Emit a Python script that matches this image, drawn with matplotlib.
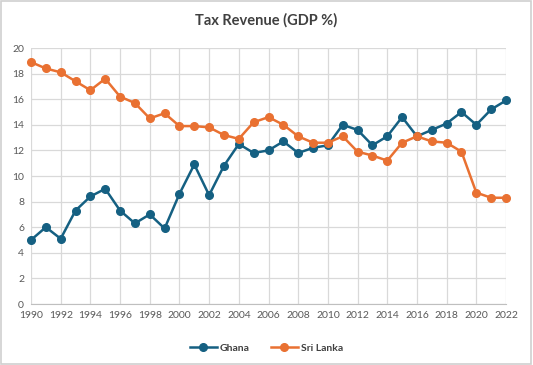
import matplotlib
matplotlib.use("Agg")
import matplotlib.pyplot as plt
from matplotlib.patches import Rectangle

years = list(range(1990, 2023))
ghana = [5.0, 6.0, 5.1, 7.3, 8.4, 9.0, 7.3, 6.3, 7.0, 5.9,
         8.6, 10.9, 8.5, 10.8, 12.5, 11.8, 12.0, 12.7, 11.8, 12.2,
         12.4, 14.0, 13.6, 12.4, 13.1, 14.6, 13.1, 13.6, 14.1, 15.0,
         14.0, 15.2, 15.9]
sri_lanka = [18.9, 18.4, 18.1, 17.4, 16.7, 17.6, 16.2, 15.7, 14.5, 14.9,
             13.9, 13.9, 13.8, 13.2, 12.9, 14.2, 14.6, 14.0, 13.1, 12.6,
             12.6, 13.1, 11.9, 11.6, 11.2, 12.6, 13.1, 12.7, 12.6, 11.9,
             8.7, 8.3, 8.3]
xticks = list(range(1990, 2023, 2))
yticks = list(range(0, 21, 2))

plt.rcParams['font.family'] = ['Lato', 'DejaVu Sans']

fig = plt.figure(figsize=(5.33, 3.65), dpi=100)
fig.patches.append(Rectangle((0.002, 0.003), 0.995, 0.993, transform=fig.transFigure,
                             fill=False, edgecolor='#d0d0d0', linewidth=1.2))
ax = fig.add_axes([31 / 533, 1 - 304 / 365, 475 / 533, 256 / 365])

ax.plot(years, ghana, '-o', color='#156082', lw=1.8, ms=5.5, label='Ghana',
        zorder=3, clip_on=False)
ax.plot(years, sri_lanka, '-o', color='#e97132', lw=1.8, ms=5.5, label='Sri Lanka',
        zorder=3, clip_on=False)

ax.set_xlim(1990, 2022)
ax.set_ylim(0, 20)
ax.set_xticks(xticks)
ax.set_yticks(yticks)
ax.grid(True, color='#d9d9d9', lw=0.9)
ax.set_axisbelow(True)
for s in ['top', 'right', 'left']:
    ax.spines[s].set_visible(False)
ax.spines['bottom'].set_color('#bfbfbf')
ax.tick_params(length=0, labelsize=7.5, colors='#595959', pad=5)

fig.text(0.5, 1 - 20 / 365, 'Tax Revenue (GDP %)', ha='center', va='center',
         fontsize=10.5, fontweight='bold', color='#404040')

leg = fig.legend(loc='center', bbox_to_anchor=(0.5, 1 - 348 / 365), ncol=2,
                 frameon=False, fontsize=7.5, handlelength=2.6, columnspacing=2.0,
                 handletextpad=0.3)
for t in leg.get_texts():
    t.set_color('#404040')
    t.set_fontweight('bold')

fig.savefig('out.png', dpi=100)
